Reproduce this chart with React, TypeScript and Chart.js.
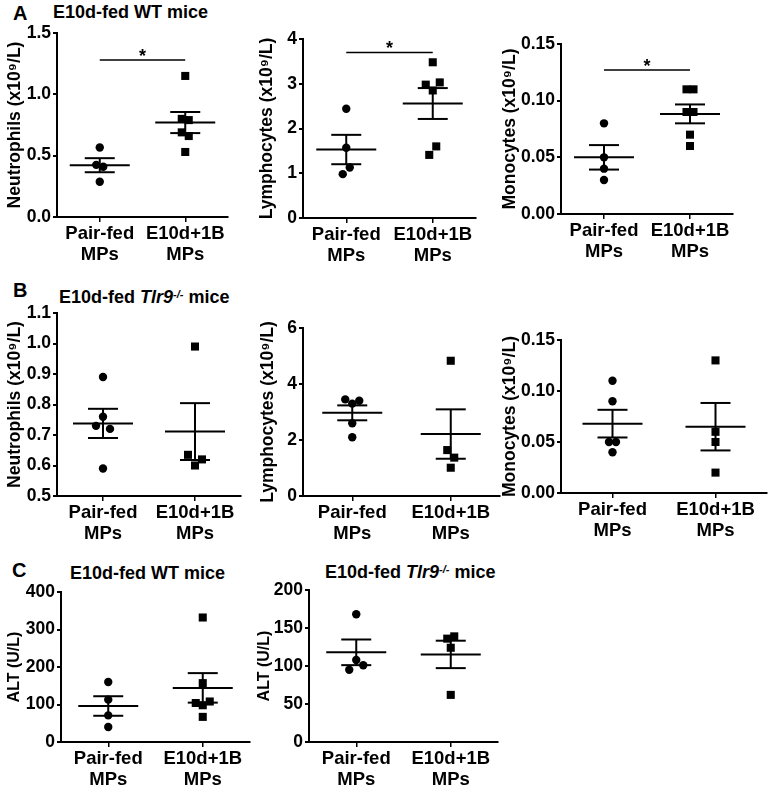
import React, { useEffect, useRef } from 'react';
import { Chart, registerables } from 'chart.js';

Chart.register(...registerables);

const FONT = '"Liberation Sans", Arial, Helvetica, sans-serif';

// ---------- data ----------
const groupLabels = [['Pair-fed', 'MPs'], ['E10d+1B', 'MPs']];

// A: E10d-fed WT mice
const neutroWTPair = [0.567, 0.425, 0.41, 0.287];
const neutroWTE10 = [1.15, 0.8, 0.79, 0.69, 0.66, 0.53];
const lymphWTPair = [2.44, 1.57, 0.98, 1.13];
const lymphWTE10 = [3.48, 2.98, 3.03, 2.85, 1.41, 1.6];
const monoWTPair = [0.08, 0.05, 0.04, 0.03];
const monoWTE10 = [0.11, 0.11, 0.09, 0.09, 0.07, 0.06];

// B: E10d-fed Tlr9-/- mice
const neutroKOPair = [0.89, 0.73, 0.72, 0.76, 0.59];
const neutroKOE10 = [0.99, 0.635, 0.62, 0.6];
const lymphKOPair = [3.45, 3.4, 3.3, 2.6, 2.1];
const lymphKOE10 = [4.83, 1.64, 1.37, 1.01];
const monoKOPair = [0.11, 0.09, 0.05, 0.05, 0.04];
const monoKOE10 = [0.13, 0.06, 0.05, 0.02];

// C: ALT
const altWTPair = [160, 113, 71, 40];
const altWTE10 = [332, 157, 104, 108, 98, 67];
const altKOPair = [168, 95, 101, 108];
const altKOE10 = [136, 139, 124, 62];

// tick labels
const ticksNeutroWT = [0, 0.5, 1.0, 1.5];
const ticksLymphWT = [0, 1, 2, 3, 4];
const ticksMono = [0, 0.05, 0.1, 0.15];
const ticksNeutroKO = [0.5, 0.6, 0.7, 0.8, 0.9, 1.0, 1.1];
const ticksLymphKO = [0, 2, 4, 6];
const ticksAltWT = [0, 100, 200, 300, 400];
const ticksAltKO = [0, 50, 100, 150, 200];

// significance bars (y value of the bar)
const sigNeutroWT = 1.28;
const sigLymphWT = 3.7;
const sigMonoWT = 0.127;

// ---------- helpers ----------
function stats(v: number[]) {
  const n = v.length;
  const mean = v.reduce((a, b) => a + b, 0) / n;
  const sd = Math.sqrt(v.reduce((a, b) => a + (b - mean) * (b - mean), 0) / (n - 1));
  return { mean, sem: sd / Math.sqrt(n) };
}

function swarm(values: number[], range: number, unitPx: number): number[] {
  const thr = 0.055 * range;
  const idx = values.map((_, i) => i).sort((a, b) => values[b] - values[a]);
  const clusters: number[][] = [];
  let cur: number[] = [];
  idx.forEach((i, k) => {
    if (k > 0 && Math.abs(values[idx[k - 1]] - values[i]) <= thr) cur.push(i);
    else {
      if (cur.length) clusters.push(cur);
      cur = [i];
    }
  });
  if (cur.length) clusters.push(cur);
  const off = new Array(values.length).fill(0);
  const D = 7 / unitPx;
  clusters.forEach((c) => {
    c.sort((a, b) => a - b);
    const k = c.length;
    let slots: number[];
    if (k === 1) slots = [0];
    else if (k === 2) slots = [-0.5, 0.5];
    else if (k === 3) slots = [-1, 1, 0];
    else slots = c.map((_, j) => j - (k - 1) / 2);
    c.forEach((i, j) => (off[i] = slots[j] * D));
  });
  return off;
}

type PanelProps = {
  cl: number; l: number; r: number; t: number; b: number;
  yTitle: string; titleSize: number; yTicks: number[]; dec: number;
  pair: number[]; e10: number[]; sig?: number;
};

const PAD_T = 16;
const PAD_R = 6;
const XH = 58;

function Panel(p: PanelProps) {
  const ref = useRef<HTMLCanvasElement | null>(null);
  const yW = p.l - p.cl;
  const width = p.r - p.cl + PAD_R;
  const height = p.b - p.t + PAD_T + XH;

  useEffect(() => {
    const canvas = ref.current;
    if (!canvas) return;
    const yMin = p.yTicks[0];
    const yMax = p.yTicks[p.yTicks.length - 1];
    const unitPx = (p.r - p.l) / 2;
    const jp = swarm(p.pair, yMax - yMin, unitPx);
    const je = swarm(p.e10, yMax - yMin, unitPx);
    const groups = [p.pair, p.e10];

    const errPlugin = {
      id: 'meanSem',
      afterDatasetsDraw(chart: any) {
        const { ctx } = chart;
        const xs = chart.scales.x;
        const ys = chart.scales.y;
        const line = (x1: number, y1: number, x2: number, y2: number) => {
          ctx.beginPath();
          ctx.moveTo(x1, y1);
          ctx.lineTo(x2, y2);
          ctx.stroke();
        };
        ctx.save();
        ctx.strokeStyle = '#000';
        ctx.lineWidth = 2;
        groups.forEach((vals, g) => {
          const { mean, sem } = stats(vals);
          const cx = xs.getPixelForValue(g);
          const ym = ys.getPixelForValue(mean);
          const yh = ys.getPixelForValue(mean + sem);
          const yl = ys.getPixelForValue(mean - sem);
          line(cx - 30, ym, cx + 30, ym);
          line(cx - 15, yh, cx + 15, yh);
          line(cx - 15, yl, cx + 15, yl);
          line(cx, yh, cx, yl);
        });
        if (p.sig !== undefined) {
          const y = ys.getPixelForValue(p.sig);
          const x0 = xs.getPixelForValue(0);
          const x1 = xs.getPixelForValue(1);
          ctx.lineWidth = 1.5;
          line(x0, y, x1, y);
          ctx.fillStyle = '#000';
          ctx.font = `bold 18px ${FONT}`;
          ctx.textAlign = 'center';
          ctx.textBaseline = 'alphabetic';
          ctx.fillText('*', (x0 + x1) / 2, y + 2);
        }
        ctx.restore();
      },
    };

    const chart = new Chart(canvas, {
      type: 'scatter',
      data: {
        datasets: [
          {
            data: p.pair.map((v, i) => ({ x: 0 + jp[i], y: v })),
            pointStyle: 'circle',
            pointRadius: 4.2,
            backgroundColor: '#000',
            borderWidth: 0,
          },
          {
            data: p.e10.map((v, i) => ({ x: 1 + je[i], y: v })),
            pointStyle: 'rect',
            pointRadius: 5.7,
            backgroundColor: '#000',
            borderWidth: 0,
          },
        ],
      },
      options: {
        responsive: false,
        animation: false,
        events: [],
        layout: { padding: { top: PAD_T, right: PAD_R, left: 0, bottom: 0 } },
        plugins: { legend: { display: false }, tooltip: { enabled: false } },
        scales: {
          x: {
            type: 'linear',
            min: -0.5,
            max: 1.5,
            afterBuildTicks: (s: any) => {
              s.ticks = [{ value: 0 }, { value: 1 }];
            },
            afterFit: (s: any) => {
              s.height = XH;
            },
            ticks: {
              callback: (v: any) => groupLabels[Math.round(Number(v))],
              font: { size: 18.5, weight: 'bold', family: FONT, lineHeight: 1.14 },
              color: '#000',
              padding: 1,
              maxRotation: 0,
              autoSkip: false,
            },
            grid: { drawOnChartArea: false, drawTicks: true, tickLength: 5, color: '#000', lineWidth: 1.5 },
            border: { display: true, color: '#000', width: 2 },
          },
          y: {
            type: 'linear',
            min: yMin,
            max: yMax,
            afterBuildTicks: (s: any) => {
              s.ticks = p.yTicks.map((v) => ({ value: v }));
            },
            afterFit: (s: any) => {
              s.width = yW;
            },
            ticks: {
              callback: (v: any) => Number(v).toFixed(p.dec),
              font: { size: 17.5, weight: 'bold', family: FONT },
              color: '#000',
              padding: 2,
              autoSkip: false,
            },
            grid: { drawOnChartArea: false, drawTicks: true, tickLength: 4, color: '#000', lineWidth: 2 },
            border: { display: true, color: '#000', width: 2 },
            title: {
              display: true,
              text: p.yTitle,
              color: '#000',
              padding: 0,
              font: { size: p.titleSize, weight: 'bold', family: FONT, lineHeight: 1 },
            },
          },
        },
      } as any,
      plugins: [errPlugin as any],
    });
    return () => chart.destroy();
  }, []);

  return (
    <canvas
      ref={ref}
      width={width}
      height={height}
      style={{ position: 'absolute', left: p.cl, top: p.t - PAD_T, width, height }}
    />
  );
}

function Label({ x, base, size, children }: { x: number; base: number; size: number; children: any }) {
  return (
    <div
      style={{
        position: 'absolute',
        left: x,
        top: base - 0.8465 * size,
        fontSize: size,
        lineHeight: `${size}px`,
        fontWeight: 'bold',
        fontFamily: FONT,
        whiteSpace: 'nowrap',
        color: '#000',
      }}
    >
      {children}
    </div>
  );
}

const KO = (
  <>
    E10d-fed <i>Tlr9</i>
    <sup style={{ fontSize: 11, fontStyle: 'italic', verticalAlign: 'top', position: 'relative', top: -3 }}>-/-</sup> mice
  </>
);

export default function App() {
  return (
    <div
      style={{
        position: 'absolute',
        left: 0,
        top: 0,
        width: 773,
        height: 801,
        background: '#fff',
        overflow: 'hidden',
      }}
    >
      <Label x={13} base={20} size={20}>A</Label>
      <Label x={53} base={18.5} size={18}>E10d-fed WT mice</Label>
      <Label x={13} base={297} size={20}>B</Label>
      <Label x={59} base={303} size={18}>{KO}</Label>
      <Label x={12} base={577} size={20}>C</Label>
      <Label x={70} base={579} size={18}>E10d-fed WT mice</Label>
      <Label x={325} base={578} size={18}>{KO}</Label>

      <Panel cl={6} l={57} r={228} t={33} b={217} yTitle="Neutrophils (x10⁹/L)" titleSize={17.5}
        yTicks={ticksNeutroWT} dec={1} pair={neutroWTPair} e10={neutroWTE10} sig={sigNeutroWT} />
      <Panel cl={258} l={303} r={476} t={39} b={218} yTitle="Lymphocytes (x10⁹/L)" titleSize={17.5}
        yTicks={ticksLymphWT} dec={0} pair={lymphWTPair} e10={lymphWTE10} sig={sigLymphWT} />
      <Panel cl={501} l={561} r={733} t={44} b={214} yTitle="Monocytes (x10⁹/L)" titleSize={17.5}
        yTicks={ticksMono} dec={2} pair={monoWTPair} e10={monoWTE10} sig={sigMonoWT} />

      <Panel cl={6} l={57} r={241} t={313} b={496} yTitle="Neutrophils (x10⁹/L)" titleSize={17.5}
        yTicks={ticksNeutroKO} dec={1} pair={neutroKOPair} e10={neutroKOE10} />
      <Panel cl={259} l={303} r={500} t={328} b={496} yTitle="Lymphocytes (x10⁹/L)" titleSize={17.5}
        yTicks={ticksLymphKO} dec={0} pair={lymphKOPair} e10={lymphKOE10} />
      <Panel cl={501} l={561} r={767} t={340} b={493} yTitle="Monocytes (x10⁹/L)" titleSize={17.5}
        yTicks={ticksMono} dec={2} pair={monoKOPair} e10={monoKOE10} />

      <Panel cl={7} l={61} r={250} t={592} b={742} yTitle="ALT (U/L)" titleSize={16}
        yTicks={ticksAltWT} dec={0} pair={altWTPair} e10={altWTE10} />
      <Panel cl={257} l={309} r={498} t={590} b={742} yTitle="ALT (U/L)" titleSize={16}
        yTicks={ticksAltKO} dec={0} pair={altKOPair} e10={altKOE10} />
    </div>
  );
}
